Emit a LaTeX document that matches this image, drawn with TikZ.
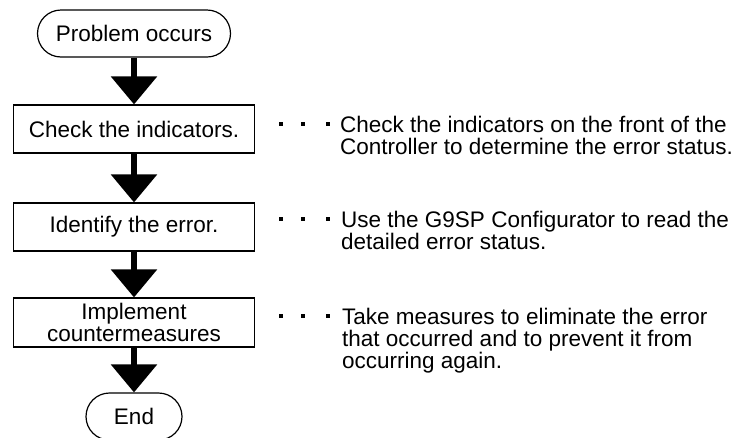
\documentclass[tikz,border=0pt]{standalone}
\usepackage{fontspec}
\setmainfont{Liberation Sans}
\usetikzlibrary{arrows.meta}
\tikzset{
  flowbox/.style={draw, line width=1.2pt, minimum width=241pt, minimum height=48pt, inner sep=0pt, align=center},
  terminal/.style={flowbox, rounded corners=23.5pt, minimum height=47pt},
  flowarrow/.style={line width=6pt, -{Triangle[length=28pt,width=45pt]}},
  note/.style={anchor=base west, inner sep=0pt, align=left},
}
\begin{document}
\begin{tikzpicture}[x=1pt, y=-1pt, font=\fontsize{22.5}{22}\selectfont]
  \useasboundingbox (0,0) rectangle (735,437);
  % Flow boxes
  \node[terminal, minimum width=193pt] (start) at (134,33.5) {Problem occurs};
  \node[flowbox] (check) at (134,129) {Check the indicators.};
  \node[flowbox] (identify) at (134,227) {Identify the error.};
  \node[flowbox, minimum height=49pt] (implement) at (134,322.5) {Implement\\countermeasures};
  \node[terminal, minimum width=96pt] (finish) at (134,416.5) {End};
  % Arrows
  \draw[flowarrow] (start) -- (check);
  \draw[flowarrow] (check) -- (identify);
  \draw[flowarrow] (identify) -- (implement);
  \draw[flowarrow] (implement) -- (finish);
  % Notes (placed at the baseline of their last line)
  \node[note] (checknote) at (340,154) {Check the indicators on the front of the\\Controller to determine the error status.};
  \node[note] (identifynote) at (341,249) {Use the G9SP Configurator to read the\\detailed error status.};
  \node[note] (implementnote) at (342,368) {Take measures to eliminate the error\\that occurred and to prevent it from\\occurring again.};
  % Dots
  \foreach \y in {124,219,316} {
    \foreach \x in {281,303,328} {
      \fill (\x-2,\y-2) rectangle (\x+2,\y+2);
    }
  }
\end{tikzpicture}
\end{document}
